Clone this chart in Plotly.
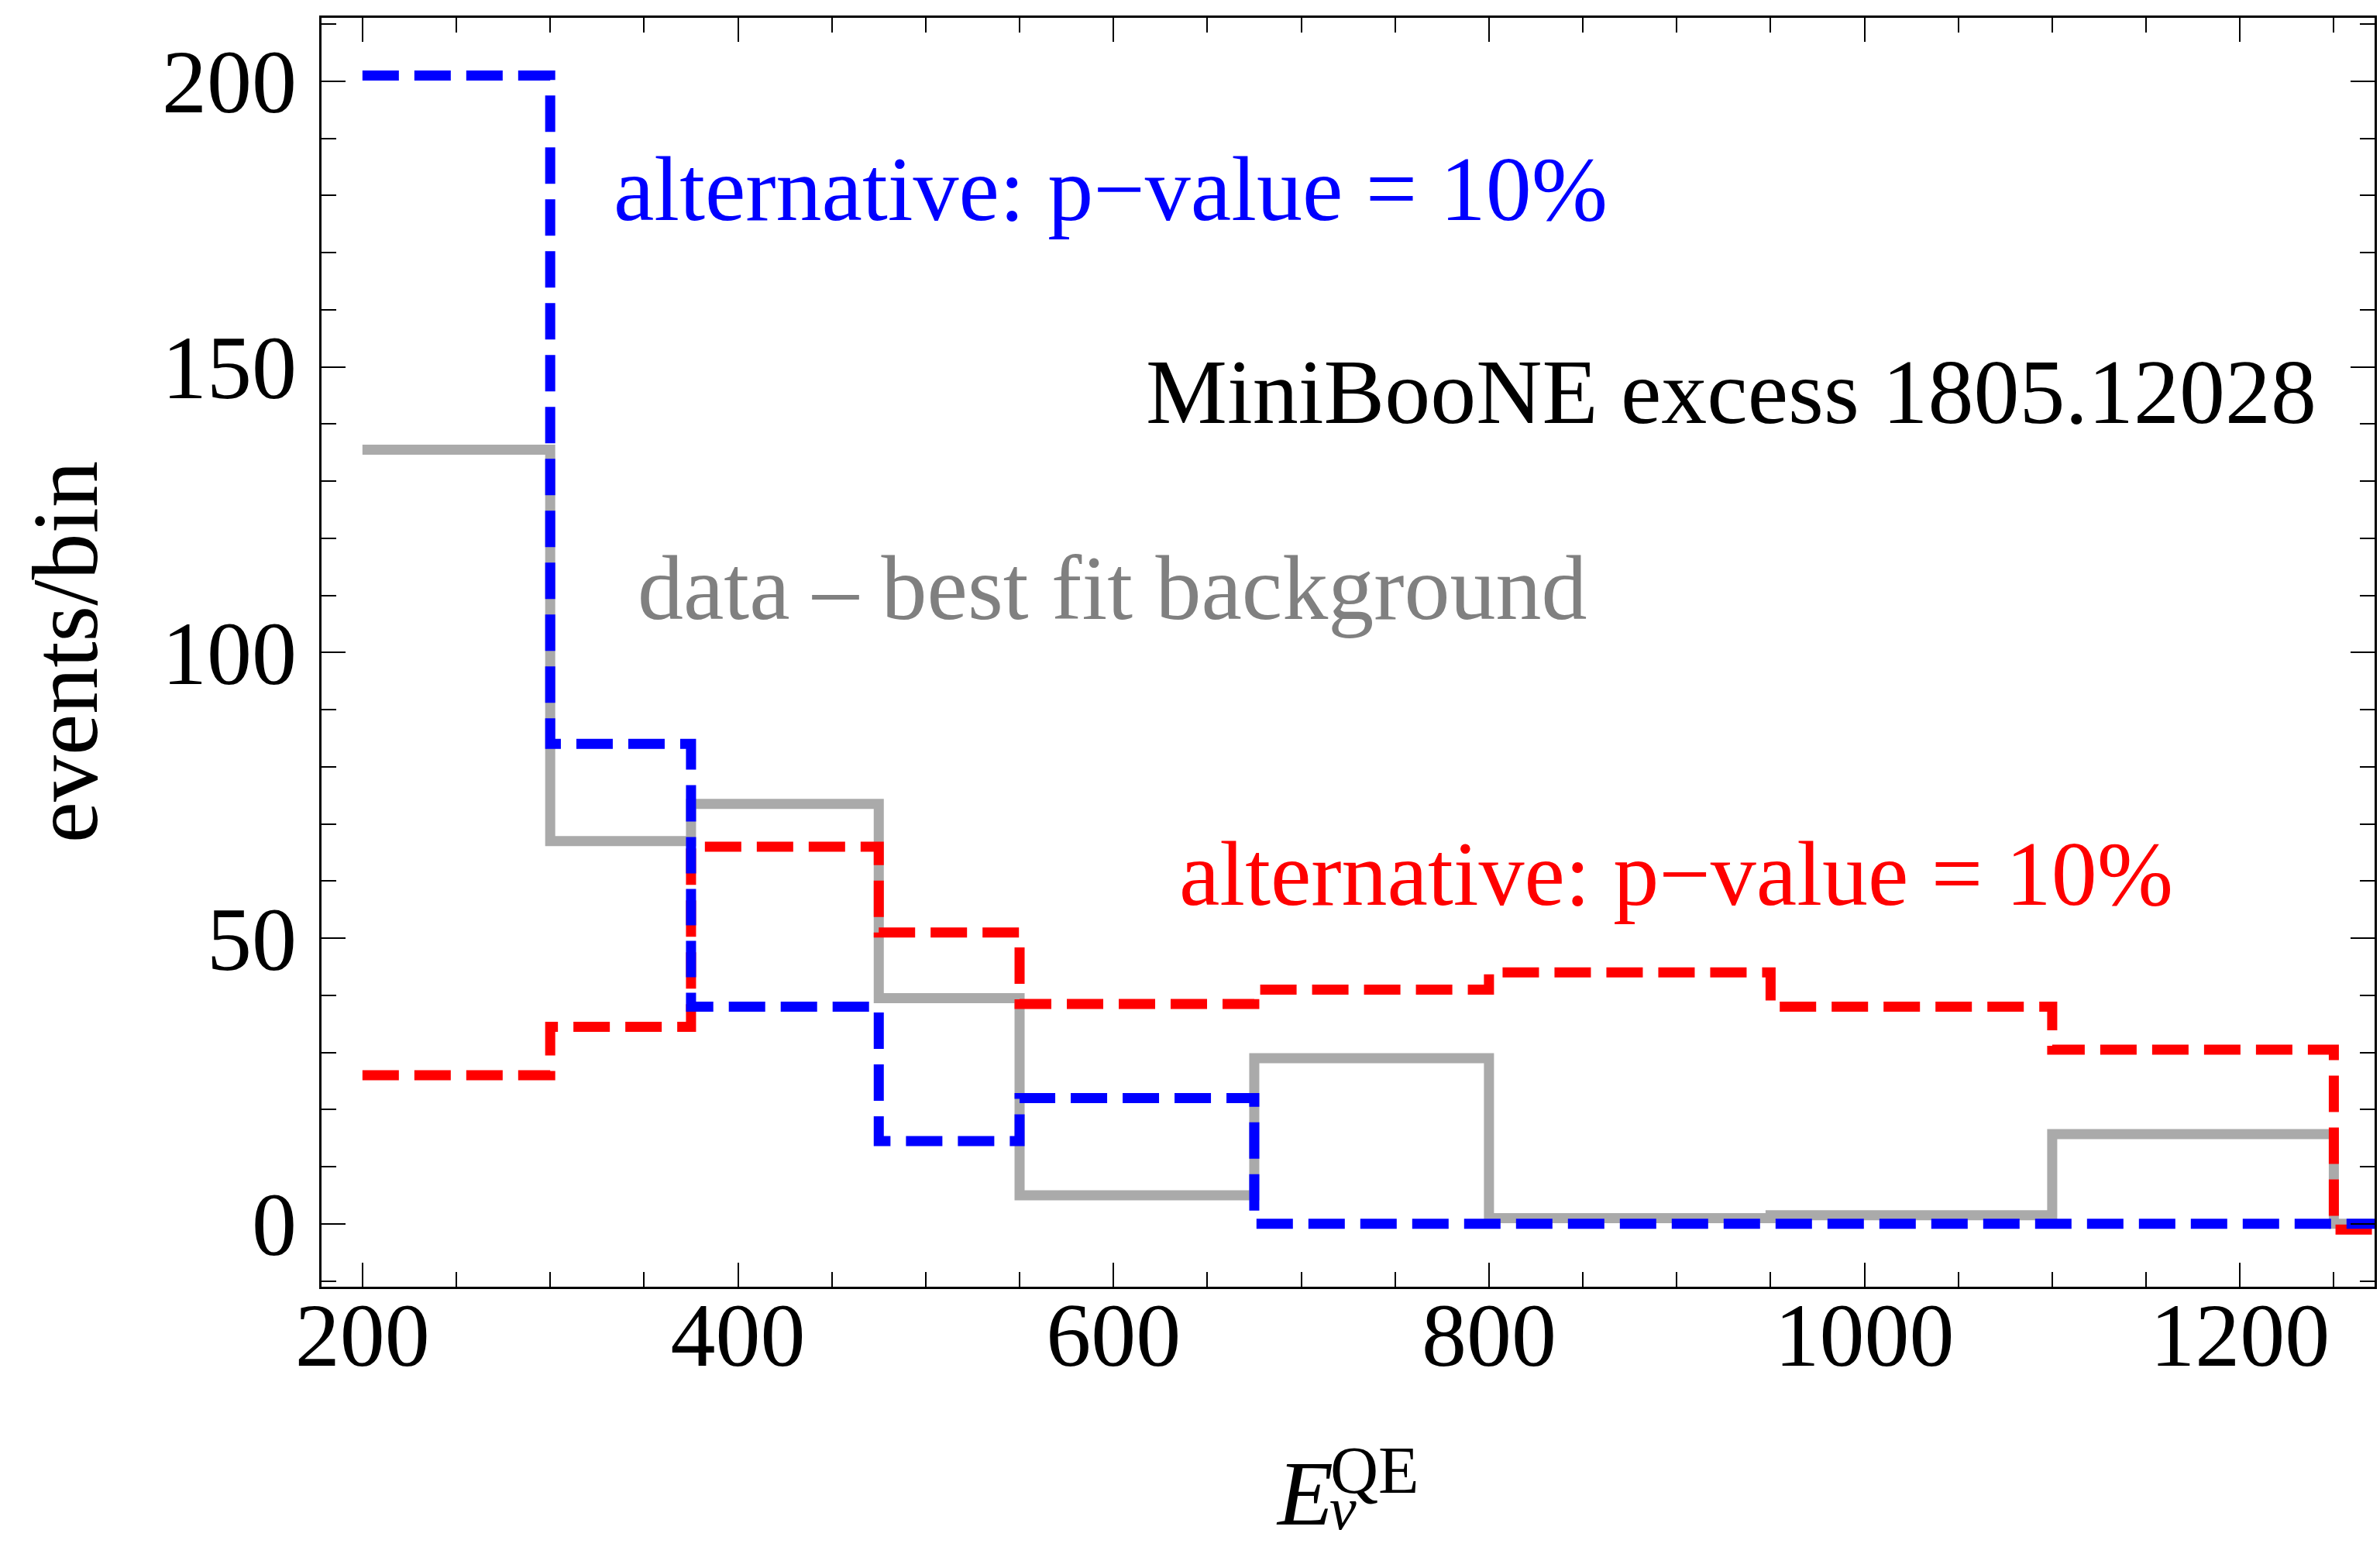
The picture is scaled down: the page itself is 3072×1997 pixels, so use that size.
import plotly.graph_objects as go

# Bin edges of the reconstructed neutrino energy E_nu^QE (MeV)
bin_edges = [200, 300, 375, 475, 550, 675, 800, 950, 1100, 1250]

# events per bin in each energy bin, plus the level drawn past the last edge
excess_data = [135.5, 67, 73.5, 39.5, 5, 29, 1, 1.5, 15.7]
excess_tail = 0
alt_blue = [201, 84, 38, 14.5, 22, 0, 0, 0, 0]
alt_blue_tail = 0
alt_red = [26, 34.5, 66, 51, 38.5, 41, 44, 38, 30.5]
alt_red_tail = -1

x_range = [178.2, 1271.7]
y_range = [-11.0, 211.1]

x_ticks = [200, 400, 600, 800, 1000, 1200]
y_ticks = [0, 50, 100, 150, 200]

FONT = "Liberation Serif"


def step_xy(values, tail):
    xs = list(bin_edges) + [x_range[1] + 20]
    ys = list(values) + [tail, tail]
    return xs, ys


fig = go.Figure()

gx, gy = step_xy(excess_data, excess_tail)
fig.add_trace(go.Scatter(x=gx, y=gy, mode="lines", line_shape="hv",
                         line=dict(color="#aaaaaa", width=13),
                         name="data - best fit background"))

rx, ry = step_xy(alt_red, alt_red_tail)
fig.add_trace(go.Scatter(x=rx, y=ry, mode="lines", line_shape="hv",
                         line=dict(color="#ff0000", width=13, dash="47px,20px"),
                         name="alternative (red)"))

bx, by = step_xy(alt_blue, alt_blue_tail)
fig.add_trace(go.Scatter(x=bx, y=by, mode="lines", line_shape="hv",
                         line=dict(color="#0000ff", width=13, dash="47px,20px"),
                         name="alternative (blue)"))

axis_common = dict(
    showline=True, linecolor="black", linewidth=2.5, mirror="allticks",
    ticks="inside", tickcolor="black", tickwidth=2, ticklen=31,
    showgrid=False, zeroline=False,
    tickfont=dict(family=FONT, size=116, color="black"),
)

fig.update_xaxes(range=x_range, tickmode="array", tickvals=x_ticks,
                 ticktext=[str(v) for v in x_ticks], ticklabelstandoff=-40,
                 minor=dict(dtick=50, tick0=200, ticks="inside", ticklen=19,
                            tickwidth=2, tickcolor="black"),
                 **axis_common)
fig.update_yaxes(range=y_range, tickmode="array", tickvals=y_ticks,
                 ticktext=[str(v) for v in y_ticks], ticklabelstandoff=6,
                 minor=dict(dtick=10, tick0=0, ticks="inside", ticklen=19,
                            tickwidth=2, tickcolor="black"),
                 **axis_common)

ann_font = dict(family=FONT, size=118)
annotations = [
    dict(x=598.6, y=181, xref="x", yref="y", text="alternative: p\u2212value = 10%",
         font=dict(ann_font, color="#0000ff")),
    dict(x=929.2, y=145.6, xref="x", yref="y", text="MiniBooNE excess 1805.12028",
         font=dict(ann_font, color="black")),
    dict(x=599.5, y=111.2, xref="x", yref="y", text="data \u2013 best fit background",
         font=dict(ann_font, color="#808080")),
    dict(x=899.6, y=61.2, xref="x", yref="y", text="alternative: p\u2212value = 10%",
         font=dict(ann_font, color="#ff0000")),
    # axis titles
    dict(x=-0.1248, y=0.5, xref="paper", yref="paper", text="events/bin",
         textangle=-90, font=dict(family=FONT, size=120, color="black")),
    dict(x=0.4787, y=-0.1636, xref="paper", yref="paper", text="<i>E</i>",
         font=dict(family=FONT, size=118, color="black")),
    dict(x=0.5130, y=-0.1447, xref="paper", yref="paper", text="QE",
         font=dict(family=FONT, size=86, color="black")),
    dict(x=0.4975, y=-0.1752, xref="paper", yref="paper", text="<i>\u03bd</i>",
         font=dict(family=FONT, size=78, color="black")),
]
for a in annotations:
    a.update(showarrow=False, xanchor="center", yanchor="middle")
fig.update_layout(annotations=annotations)

fig.update_layout(
    width=3072, height=1997, autosize=False,
    margin=dict(l=415, r=4, t=23, b=336, pad=0),
    paper_bgcolor="white", plot_bgcolor="white",
    showlegend=False,
)

fig.write_html("out.html")
